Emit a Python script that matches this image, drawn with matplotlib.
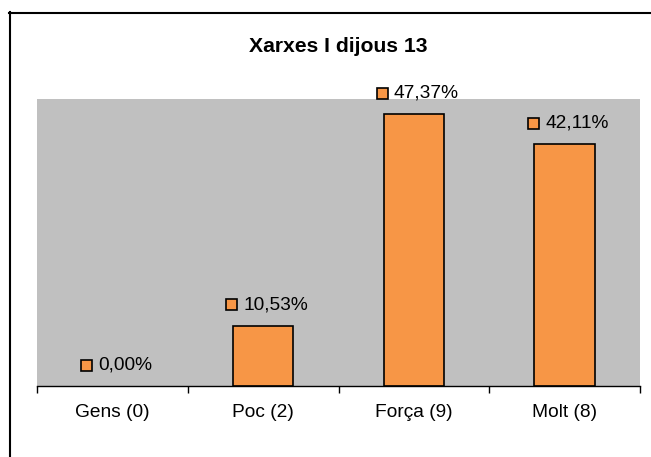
import matplotlib
matplotlib.use("Agg")
import matplotlib.pyplot as plt
from matplotlib.offsetbox import AnnotationBbox, HPacker, TextArea, DrawingArea
from matplotlib.patches import Rectangle
from matplotlib.lines import Line2D

categories = ["Gens (0)", "Poc (2)", "Força (9)", "Molt (8)"]
values = [0.0, 10.53, 47.37, 42.11]
labels = ["0,00%", "10,53%", "47,37%", "42,11%"]
title = "Xarxes I dijous 13"

plt.rcParams['font.family'] = ["Liberation Sans", 'DejaVu Sans']

orange = "#F79646"
W, H = 651, 457
fig = plt.figure(figsize=(W/100, H/100), dpi=100)
fig.patch.set_facecolor("white")

# outer frame (clipped at right/bottom)
fig.add_artist(Line2D([9.5/W, 9.5/W], [0, (H-12)/H], color="black", lw=1.5, transform=fig.transFigure))
fig.add_artist(Line2D([9/W, 1.0], [(H-12.5)/H, (H-12.5)/H], color="black", lw=1.5, transform=fig.transFigure))

ax = fig.add_axes([37/W, (H-386)/H, (640-37)/W, (386-99)/H])
ax.set_facecolor("#C0C0C0")
x = list(range(len(categories)))
ax.bar(x, values, width=0.4, color=orange, edgecolor="black",
       linewidth=[0 if v == 0 else 1.2 for v in values], zorder=3)
ax.set_xlim(-0.5, len(categories)-0.5)
ax.set_ylim(0, 50)
ax.set_yticks([])
for s in ["top", "right", "left"]:
    ax.spines[s].set_visible(False)
ax.spines["bottom"].set_linewidth(1.0)
ax.spines["bottom"].set_zorder(4)
ax.set_xticks(x)
ax.set_xticklabels(categories, fontsize=13.8)
ax.tick_params(axis="x", which="major", length=0, pad=13)
ax.set_xticks([i-0.5 for i in range(len(categories)+1)], minor=True)
ax.tick_params(axis="x", which="minor", length=5, width=1, direction="out")

for xi, v, lab in zip(x, values, labels):
    da = DrawingArea(9, 9, 0, 0)
    da.add_artist(Rectangle((0.5, 0.5), 8, 8, facecolor=orange, edgecolor="black", lw=1.2))
    ta = TextArea(lab, textprops=dict(fontsize=13.8, color="black"))
    box = HPacker(children=[da, ta], align="center", pad=0, sep=4)
    ab = AnnotationBbox(box, (xi, v), xybox=(2.5, 15), xycoords="data",
                        boxcoords="offset points", frameon=False,
                        box_alignment=(0.5, 0.5), annotation_clip=False)
    ax.add_artist(ab)

fig.text((37+640)/2/W, (H-47)/H, title, ha="center", va="center",
         fontsize=15.2, fontweight="bold")

fig.savefig("out.png", dpi=100)
